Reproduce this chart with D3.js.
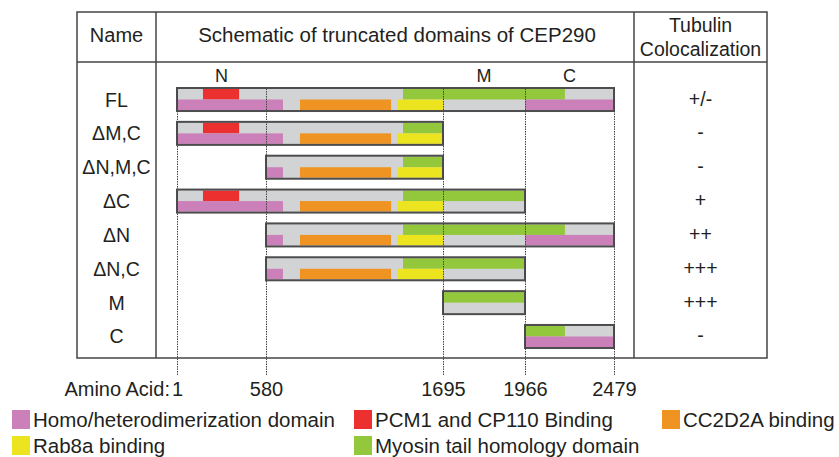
<!DOCTYPE html>
<html>
<head>
<meta charset="utf-8">
<script src="https://cdn.jsdelivr.net/npm/d3@7"></script>
<style>
  body { margin: 0; background: #fff; }
  text { font-family: "Liberation Sans", Arial, sans-serif; fill: #231f20; }
</style>
</head>
<body>
<div id="wrapper"></div>
<script>
// constructs and their amino acid ranges
const rowNames = ["FL", "ΔM,C", "ΔN,M,C", "ΔC", "ΔN", "ΔN,C", "M", "C"]
const rowStart = [1, 1, 580, 1, 580, 580, 1695, 1966]
const rowEnd = [2479, 1695, 1695, 1966, 2479, 1966, 1966, 2479]
const tubulin = ["+/-", "-", "-", "+", "++", "+++", "+++", "-"]

// domain segments of full length protein (track 0 = upper half, 1 = lower half)
const segKind = ["PCM1", "Myosin", "Homo", "CC2D2A", "Rab8a", "Homo"]
const segTrack = [0, 0, 1, 1, 1, 1]
const segStart = [170, 1443, 1, 794, 1410, 1966]
const segEnd = [405, 2196, 687, 1368, 1695, 2479]

// axis ticks and region names
const aaTicks = [1, 580, 1695, 1966, 2479]
const regionNames = ["N", "M", "C"]
const regionStart = [1, 1695, 1966]
const regionEnd = [580, 1966, 2479]

// legend
const legendKinds = ["Homo", "PCM1", "CC2D2A", "Rab8a", "Myosin"]
const legendLabels = ["Homo/heterodimerization domain", "PCM1 and CP110 Binding",
  "CC2D2A binding", "Rab8a binding", "Myosin tail homology domain"]

const colors = {
  Homo: "#cc80b9",
  PCM1: "#ec2f2f",
  CC2D2A: "#ef9422",
  Rab8a: "#ebe41f",
  Myosin: "#94c83c",
}

const width = 839
const height = 457
const table = { left: 77, right: 767, top: 12, bottom: 358, header: 62, nameCol: 156, tubCol: 634 }

const svg = d3.select("#wrapper").append("svg")
    .attr("width", width)
    .attr("height", height)

// schematic is not drawn to scale, each region has its own stretch
const xScale = d3.scaleLinear()
  .domain(aaTicks)
  .range([177, 266, 443, 525, 614])

const yScale = d3.scaleBand()
  .domain(rowNames)
  .range([88, 348])
  .paddingInner(0.32)
  .paddingOuter(0)

const lineColor = "#444"

// table frame
const frame = svg.append("g")
frame.append("rect")
    .attr("x", table.left)
    .attr("y", table.top)
    .attr("width", table.right - table.left)
    .attr("height", table.bottom - table.top)
    .attr("fill", "none")
    .attr("stroke", lineColor)
    .attr("stroke-width", 1.5)
frame.append("line")
    .attr("x1", table.left).attr("x2", table.right)
    .attr("y1", table.header).attr("y2", table.header)
    .attr("stroke", lineColor).attr("stroke-width", 1.5)
;[table.nameCol, table.tubCol].forEach(x => {
  frame.append("line")
      .attr("x1", x).attr("x2", x)
      .attr("y1", table.top).attr("y2", table.bottom)
      .attr("stroke", lineColor).attr("stroke-width", 1.5)
})

// headers
const nameX = (table.left + table.nameCol) / 2
const tubX = (table.tubCol + table.right) / 2
svg.append("text")
    .attr("x", nameX).attr("y", 42)
    .attr("text-anchor", "middle")
    .style("font-size", "20px")
    .text("Name")
svg.append("text")
    .attr("x", (table.nameCol + table.tubCol) / 2 + 2).attr("y", 42)
    .attr("text-anchor", "middle")
    .style("font-size", "20.5px")
    .text("Schematic of truncated domains of CEP290")
svg.append("text")
    .attr("x", tubX).attr("y", 32)
    .attr("text-anchor", "middle")
    .style("font-size", "19.5px")
    .text("Tubulin")
svg.append("text")
    .attr("x", tubX).attr("y", 56)
    .attr("text-anchor", "middle")
    .style("font-size", "19.5px")
    .text("Colocalization")

// region names above bars
svg.selectAll(".region")
  .data(regionNames)
  .enter().append("text")
    .attr("class", "region")
    .attr("x", (d, i) => (xScale(regionStart[i]) + xScale(regionEnd[i])) / 2)
    .attr("y", 82)
    .attr("text-anchor", "middle")
    .style("font-size", "18px")
    .text(d => d)

// bars
const half = yScale.bandwidth() / 2
const rows = svg.selectAll(".row")
  .data(rowNames)
  .enter().append("g")
    .attr("class", "row")
    .attr("transform", d => `translate(0, ${yScale(d)})`)

rows.append("rect")
    .attr("x", (d, i) => xScale(rowStart[i]))
    .attr("width", (d, i) => xScale(rowEnd[i]) - xScale(rowStart[i]))
    .attr("height", yScale.bandwidth())
    .attr("fill", "#d2d3d5")

rows.each(function(d, i) {
  const g = d3.select(this)
  segKind.forEach((kind, j) => {
    const s = Math.max(segStart[j], rowStart[i])
    const e = Math.min(segEnd[j], rowEnd[i])
    if (e <= s) return
    g.append("rect")
        .attr("x", xScale(s))
        .attr("y", segTrack[j] * half + (segTrack[j] === 0 ? 1 : 0))
        .attr("width", xScale(e) - xScale(s))
        .attr("height", half - 1)
        .attr("fill", colors[kind])
  })
})

rows.append("rect")
    .attr("x", (d, i) => xScale(rowStart[i]))
    .attr("width", (d, i) => xScale(rowEnd[i]) - xScale(rowStart[i]))
    .attr("height", yScale.bandwidth())
    .attr("fill", "none")
    .attr("stroke", "#4d4d4f")
    .attr("stroke-width", 2)

// row labels and tubulin scores
rows.append("text")
    .attr("x", nameX)
    .attr("y", half + 7)
    .attr("text-anchor", "middle")
    .style("font-size", "19.5px")
    .text(d => d)
rows.append("text")
    .attr("x", tubX)
    .attr("y", half + 6)
    .attr("text-anchor", "middle")
    .style("font-size", "19.5px")
    .text((d, i) => tubulin[i])

// amino acid axis with dotted guide lines
const axisY = 375
const xAxisGenerator = d3.axisBottom()
  .scale(xScale)
  .tickValues(aaTicks)
  .tickFormat(d3.format("d"))
  .tickSize(-(axisY - 88))
  .tickPadding(7)

const xAxis = svg.append("g")
    .attr("transform", `translate(0, ${axisY})`)
    .call(xAxisGenerator)
xAxis.select(".domain").remove()
xAxis.selectAll("line")
    .attr("stroke", "#444")
    .attr("stroke-width", 1)
    .attr("stroke-dasharray", "1.5,1")
xAxis.selectAll("text")
    .style("font-size", "20px")
    .style("font-family", "'Liberation Sans', Arial, sans-serif")
    .attr("fill", "#231f20")

svg.append("text")
    .attr("x", 170).attr("y", 396)
    .attr("text-anchor", "end")
    .style("font-size", "20px")
    .text("Amino Acid:")

// legend
const legendX = [12, 354, 662]
const legendY = [410, 436]
const legend = svg.selectAll(".legend")
  .data(legendKinds)
  .enter().append("g")
    .attr("class", "legend")
    .attr("transform", (d, i) => `translate(${legendX[i % 3]}, ${legendY[Math.floor(i / 3)]})`)
legend.append("rect")
    .attr("width", 18)
    .attr("height", 19)
    .attr("fill", d => colors[d])
legend.append("text")
    .attr("x", 21)
    .attr("y", 17)
    .style("font-size", "20.5px")
    .text((d, i) => legendLabels[i])
</script>
</body>
</html>
